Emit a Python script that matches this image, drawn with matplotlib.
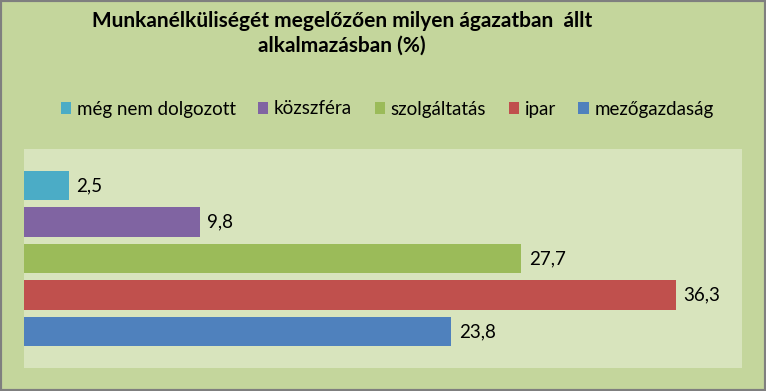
import matplotlib
matplotlib.use("Agg")
import matplotlib.pyplot as plt
from matplotlib.patches import Rectangle, Patch

plt.rcParams['font.family'] = ['Lato', 'DejaVu Sans']

title = "Munkanélküliségét megelőzően milyen ágazatban  állt\nalkalmazásban (%)"
series = ["még nem dolgozott", "közszféra", "szolgáltatás", "ipar", "mezőgazdaság"]
values = [2.5, 9.8, 27.7, 36.3, 23.8]
colors = ["#4BACC6", "#8064A2", "#9BBB59", "#C0504D", "#4F81BD"]
labels = ["2,5", "9,8", "27,7", "36,3", "23,8"]

fig = plt.figure(figsize=(7.66, 3.91), dpi=100)
fig.patch.set_facecolor("#C4D69C")
fig.patches.append(Rectangle((0, 0), 1, 1, transform=fig.transFigure,
                             fill=False, edgecolor="#7F7F7F", linewidth=3, zorder=10))

ax = fig.add_axes([24/766, 1-368/391, (742-24)/766, (368-149)/391])
ax.set_facecolor("#D8E4BD")
n = len(series)
ypos = [n - 1 - i for i in range(n)]
for y, v, c, lab in zip(ypos, values, colors, labels):
    ax.barh(y, v, height=0.795, color=c)
    ax.text(v + 0.42, y, lab, va="center", ha="left", fontsize=13.5, color="#000000")
ax.set_xlim(0, 40)
ax.set_ylim(-1, n)
ax.set_xticks([])
ax.set_yticks([])
for s in ax.spines.values():
    s.set_visible(False)

fig.text(342/766, 1-33/391, title, ha="center", va="center", fontsize=15,
         fontweight="bold", linespacing=1.3)

handles = [Patch(facecolor=c, edgecolor="none") for c in colors]
fig.legend(handles, series, loc="center", bbox_to_anchor=(387/766, 1-109/391),
           ncol=5, frameon=False, fontsize=13.5, handlelength=0.55, handleheight=0.55,
           handletextpad=0.3, columnspacing=1.2)

fig.savefig("out.png", dpi=100, facecolor=fig.get_facecolor())
